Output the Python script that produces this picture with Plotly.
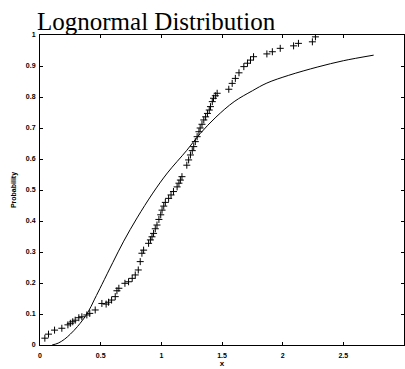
import plotly.graph_objects as go

data_x = [0.04, 0.07, 0.12, 0.18, 0.23, 0.25, 0.27, 0.29, 0.32, 0.345, 0.386, 0.41, 0.455,
          0.51, 0.545, 0.565, 0.59, 0.62, 0.634, 0.65, 0.70, 0.73, 0.76, 0.785, 0.81, 0.826,
          0.84, 0.854, 0.895, 0.91, 0.923, 0.936, 0.95, 0.964, 0.98, 0.995, 1.006, 1.02,
          1.033, 1.06, 1.08, 1.10, 1.13, 1.145, 1.157, 1.17, 1.21, 1.225, 1.24, 1.255,
          1.267, 1.28, 1.295, 1.31, 1.32, 1.335, 1.35, 1.365, 1.38, 1.395, 1.405, 1.42,
          1.43, 1.445, 1.46, 1.556, 1.584, 1.61, 1.64, 1.68, 1.71, 1.735, 1.76, 1.87,
          1.915, 1.98, 2.09, 2.13, 2.245, 2.27]
data_p = [0.022, 0.035, 0.048, 0.054, 0.065, 0.07, 0.075, 0.08, 0.088, 0.091, 0.097, 0.102, 0.113,
          0.134, 0.132, 0.138, 0.145, 0.156, 0.175, 0.183, 0.199, 0.204, 0.215, 0.226, 0.242, 0.269,
          0.296, 0.306, 0.328, 0.339, 0.349, 0.36, 0.375, 0.387, 0.405, 0.42, 0.435, 0.448,
          0.46, 0.473, 0.484, 0.495, 0.51, 0.522, 0.532, 0.543, 0.58, 0.597, 0.613, 0.627,
          0.64, 0.656, 0.672, 0.688, 0.70, 0.712, 0.726, 0.736, 0.747, 0.758, 0.769, 0.785,
          0.796, 0.804, 0.812, 0.825, 0.844, 0.86, 0.878, 0.898, 0.909, 0.919, 0.93, 0.939,
          0.946, 0.957, 0.965, 0.973, 0.978, 0.994]

# Fitted lognormal CDF curve
curve_x = [0.10, 0.15, 0.20, 0.25, 0.31, 0.39, 0.45, 0.51, 0.60, 0.69, 0.80, 0.93, 1.05,
           1.21, 1.32, 1.45, 1.60, 1.75, 1.87, 2.05, 2.29, 2.50, 2.75]
curve_p = [0.0, 0.006, 0.018, 0.035, 0.06, 0.102, 0.148, 0.195, 0.266, 0.335, 0.41, 0.49, 0.555,
           0.628, 0.682, 0.735, 0.785, 0.82, 0.845, 0.87, 0.897, 0.917, 0.935]

x_ticks = [0, 0.5, 1, 1.5, 2, 2.5, 3]
x_tick_labels = ["0", "0.5", "1", "1.5", "2", "2.5", "3"]
y_ticks = [0, 0.1, 0.2, 0.3, 0.4, 0.5, 0.6, 0.7, 0.8, 0.9, 1]
y_tick_labels = ["0", "0.1", "0.2", "0.3", "0.4", "0.5", "0.6", "0.7", "0.8", "0.9", "1"]

fig = go.Figure()
fig.add_trace(go.Scatter(x=data_x, y=data_p, mode="markers",
                         marker=dict(symbol="cross-thin-open", size=5, color="black",
                                     line=dict(color="black", width=1)),
                         showlegend=False))
fig.add_trace(go.Scatter(x=curve_x, y=curve_p, mode="lines", line_shape="spline",
                         line=dict(color="black", width=1), showlegend=False))

axis_font = dict(family="Liberation Sans", size=7, color="black", weight="bold")
fig.update_layout(
    width=405, height=369,
    margin=dict(l=40, r=1, t=35, b=24),
    paper_bgcolor="white", plot_bgcolor="white",
    title=dict(text="Lognormal Distribution", xref="container", yref="container",
               x=37/405, xanchor="left", y=1 - 21/369, yanchor="middle",
               font=dict(family="Liberation Serif", size=25, color="black")),
    xaxis=dict(range=[0, 3], tickvals=x_ticks, ticktext=x_tick_labels,
               showgrid=False, zeroline=False, showline=True, linecolor="black",
               linewidth=1, mirror="ticks", ticks="inside", ticklen=3,
               tickcolor="black", tickfont=axis_font, ticklabelstandoff=4,
               title=dict(text="x", font=dict(family="Liberation Sans", size=8,
                                              color="black", weight="bold"), standoff=0)),
    yaxis=dict(range=[0, 1], tickvals=y_ticks, ticktext=y_tick_labels,
               showgrid=False, zeroline=False, showline=True, linecolor="black",
               linewidth=1, mirror="ticks", ticks="inside", ticklen=3,
               tickcolor="black", tickfont=axis_font, ticklabelstandoff=2,
               title=dict(text="Probability", font=dict(family="Liberation Sans", size=7,
                                                        color="black", weight="bold"), standoff=8)),
)

fig.write_html("out.html")
